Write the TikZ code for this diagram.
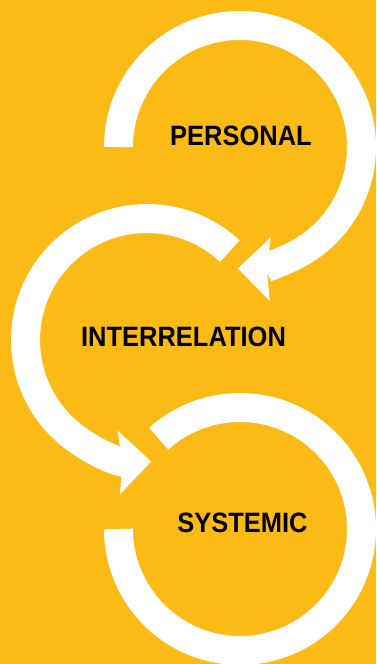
\documentclass[tikz,border=0pt]{standalone}
\usepackage{fontspec}
\newfontfamily\cyclefont{Liberation Sans}[FakeStretch=0.91]
\usetikzlibrary{arrows.meta}
\definecolor{cycleyellow}{HTML}{FBBA16}
\newcommand{\steplabel}[1]{{\cyclefont\bfseries\fontsize{28}{30}\selectfont #1}}

\begin{document}
\begin{tikzpicture}[line join=round,x=1pt,y=1pt,
	ring/.style={line width=29pt,color=white},
	ringarrow/.style={ring,-{Stealth[length=32pt,width=62pt,inset=3pt]}}]
			\clip(0,0) rectangle (376,664);
			\fill [cycleyellow] (0,0) rectangle (376,664);
			% centres of the three rings
			\coordinate (cp) at (240,517);
			\coordinate (ci) at (147,324);
			\coordinate (cs) at (240,135);
			\draw [shift={(cp)},ringarrow] (180:121.5) arc (180:-91:121.5);
			\draw [shift={(ci)},ringarrow] (47:121.5) arc (47:272:121.5);
			\draw [shift={(cs)},ring] (132:121.5) arc (132:-180:121.5);
			\draw[color=black] (241,528.5) node (personal) {\steplabel{PERSONAL}};
			\draw[color=black] (183.5,327) node (interrelation) {\steplabel{INTERRELATION}};
			\draw[color=black] (242.5,141) node (systemic) {\steplabel{SYSTEMIC}};
		\end{tikzpicture}
\end{document}
